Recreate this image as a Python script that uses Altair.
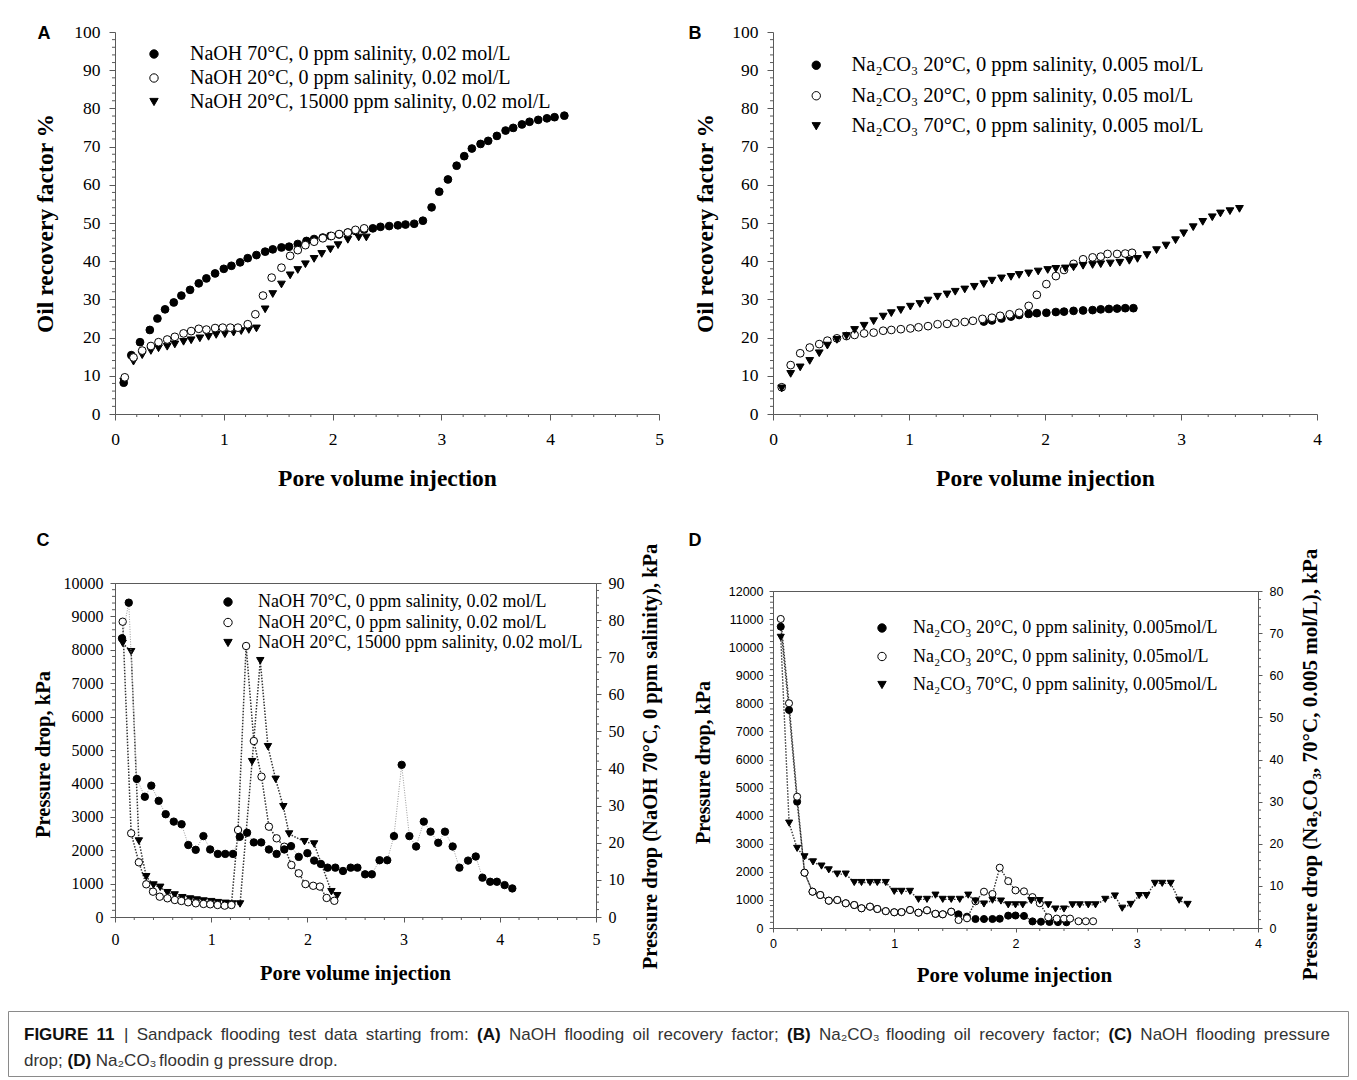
import altair as alt
import pandas as pd

SERIF = "Liberation Serif"
SANS = "Liberation Sans"
AX = "#5a5a5a"

# ---------------- Panel A : NaOH oil recovery factor ----------------
A_NAMES = ["NaOH 70°C, 0 ppm salinity, 0.02 mol/L",
           "NaOH 20°C, 0 ppm salinity, 0.02 mol/L",
           "NaOH 20°C, 15000 ppm salinity, 0.02 mol/L"]
a_x70 = [0.08, 0.15, 0.23, 0.32, 0.39, 0.46, 0.54, 0.61, 0.69, 0.77, 0.84, 0.92, 1.00, 1.07, 1.15, 1.22, 1.30, 1.38,
         1.45, 1.53, 1.60, 1.68, 1.76, 1.83, 1.91, 1.98, 2.06, 2.14, 2.21, 2.29, 2.37, 2.44, 2.52, 2.60, 2.67, 2.75,
         2.83, 2.91, 2.98, 3.06, 3.14, 3.21, 3.28, 3.36, 3.43, 3.51, 3.59, 3.66, 3.74, 3.81, 3.89, 3.97, 4.04, 4.13]
a_y70 = [8.2, 15.4, 18.8, 22.0, 25.0, 27.4, 29.2, 31.0, 32.5, 34.2, 35.5, 36.8, 38.0, 38.8, 39.7, 40.8, 41.6, 42.5,
         43.1, 43.6, 43.8, 44.5, 45.3, 45.8, 46.2, 46.6, 47.0, 47.5, 47.9, 48.3, 48.6, 49.0, 49.2, 49.4, 49.6, 49.8,
         50.6, 54.1, 58.2, 61.4, 65.0, 67.5, 69.5, 70.7, 71.5, 72.8, 74.2, 74.9, 75.8, 76.5, 77.0, 77.4, 77.7, 78.1]
a_x20 = [0.09, 0.17, 0.25, 0.33, 0.40, 0.48, 0.55, 0.63, 0.70, 0.77, 0.84, 0.92, 0.99, 1.06, 1.13, 1.22, 1.29, 1.36,
         1.44, 1.53, 1.61, 1.68, 1.75, 1.83, 1.91, 1.99, 2.06, 2.14, 2.21, 2.29]
a_y20 = [9.6, 14.8, 16.6, 17.8, 18.8, 19.5, 20.2, 21.1, 21.7, 22.3, 22.1, 22.5, 22.6, 22.6, 22.6, 23.5, 26.1, 31.0,
         35.7, 38.3, 41.4, 42.9, 44.2, 45.1, 46.0, 46.6, 47.1, 47.5, 48.2, 48.6]
a_xs = [0.08, 0.17, 0.25, 0.33, 0.40, 0.48, 0.55, 0.63, 0.70, 0.78, 0.86, 0.93, 1.01, 1.09, 1.16, 1.23, 1.30, 1.38,
        1.45, 1.53, 1.61, 1.68, 1.75, 1.83, 1.90, 1.98, 2.05, 2.14, 2.24, 2.31]
a_ys = [8.5, 13.7, 15.4, 16.5, 17.2, 17.6, 18.2, 18.9, 19.3, 19.8, 20.2, 20.7, 20.9, 21.3, 21.7, 22.0, 22.4, 27.4,
        31.4, 33.9, 36.3, 37.7, 39.2, 40.6, 41.9, 43.1, 44.2, 45.6, 46.2, 46.2]

# ---------------- Panel B : Na2CO3 oil recovery factor ----------------
B_NAMES = ["Na₂CO₃ 20°C, 0 ppm salinity, 0.005 mol/L",
           "Na₂CO₃ 20°C, 0 ppm salinity, 0.05 mol/L",
           "Na₂CO₃ 70°C, 0 ppm salinity, 0.005 mol/L"]
b_x005 = [1.55, 1.61, 1.68, 1.75, 1.81, 1.88, 1.94, 2.01, 2.08, 2.14, 2.21, 2.28, 2.35, 2.41, 2.47, 2.53, 2.59, 2.65]
b_y005 = [24.2, 24.5, 25.0, 25.5, 25.9, 26.2, 26.4, 26.5, 26.7, 26.8, 27.0, 27.1, 27.2, 27.4, 27.5, 27.6, 27.7, 27.7]
b_x05 = [0.064, 0.13, 0.20, 0.27, 0.34, 0.40, 0.47, 0.54, 0.60, 0.67, 0.74, 0.81, 0.87, 0.94, 1.01, 1.07, 1.14, 1.21,
         1.28, 1.34, 1.41, 1.47, 1.54, 1.61, 1.67, 1.74, 1.81, 1.88, 1.94, 2.01, 2.08, 2.14, 2.21, 2.28, 2.35, 2.41,
         2.46, 2.53, 2.59, 2.64]
b_y05 = [7.0, 12.8, 15.9, 17.4, 18.3, 19.2, 19.8, 20.4, 20.7, 21.1, 21.3, 21.8, 22.0, 22.2, 22.4, 22.7, 23.0, 23.5,
         23.6, 23.9, 24.1, 24.4, 24.9, 25.2, 25.7, 26.1, 26.5, 28.3, 31.2, 34.0, 36.1, 37.7, 39.3, 40.5, 41.0, 41.2,
         41.9, 41.9, 42.0, 42.2]
b_x70 = [0.064, 0.13, 0.20, 0.27, 0.34, 0.40, 0.47, 0.54, 0.60, 0.67, 0.74, 0.81, 0.87, 0.94, 1.01, 1.08, 1.14, 1.21,
         1.28, 1.34, 1.41, 1.48, 1.55, 1.61, 1.68, 1.75, 1.81, 1.88, 1.95, 2.02, 2.08, 2.15, 2.21, 2.28, 2.35, 2.41,
         2.48, 2.55, 2.62, 2.68, 2.75, 2.82, 2.89, 2.96, 3.02, 3.09, 3.16, 3.23, 3.29, 3.36, 3.43]
b_y70 = [6.7, 10.5, 12.2, 13.9, 15.9, 17.9, 19.4, 20.4, 22.0, 23.1, 24.3, 25.5, 26.4, 27.2, 28.1, 28.8, 29.7, 30.7,
         31.3, 32.0, 32.6, 33.3, 34.0, 34.9, 35.5, 35.9, 36.4, 36.8, 37.3, 37.7, 38.0, 38.1, 38.4, 38.8, 39.0, 39.2,
         39.4, 39.6, 40.1, 40.6, 41.6, 42.9, 44.1, 45.5, 47.3, 48.9, 50.3, 51.5, 52.5, 53.1, 53.7]

# ---------------- Panel C : NaOH pressure drop ----------------
c_x70 = [0.073, 0.143, 0.227, 0.31, 0.377, 0.454, 0.527, 0.611, 0.692, 0.762, 0.839, 0.919, 0.989, 1.069, 1.146,
         1.226, 1.297, 1.373, 1.443, 1.52, 1.60, 1.68, 1.76, 1.83, 1.91, 2.0, 2.07, 2.14, 2.21, 2.29, 2.37, 2.45, 2.52,
         2.60, 2.67, 2.75, 2.83, 2.90, 2.98, 3.06, 3.13, 3.21, 3.28, 3.36, 3.43, 3.51, 3.58, 3.67, 3.75, 3.82, 3.90,
         3.97, 4.05, 4.13]
c_y70 = [75.1, 84.7, 37.2, 32.4, 35.4, 31.3, 27.7, 25.7, 25.0, 19.4, 18.1, 21.8, 18.2, 17.0, 17.0, 17.0, 21.6, 22.7,
         20.1, 20.1, 18.2, 17.0, 18.2, 19.1, 16.2, 17.2, 15.2, 14.3, 13.3, 13.3, 12.4, 13.3, 13.3, 11.5, 11.5, 15.3,
         15.3, 21.8, 41.0, 21.8, 19.0, 25.7, 23.0, 20.0, 23.0, 19.0, 13.3, 15.2, 16.3, 10.6, 9.5, 9.5, 8.6, 7.7]
c_x20 = [0.08, 0.168, 0.248, 0.325, 0.395, 0.465, 0.545, 0.622, 0.69, 0.76, 0.84, 0.92, 0.99, 1.066, 1.14, 1.21,
         1.279, 1.363, 1.443, 1.523, 1.60, 1.68, 1.76, 1.834, 1.91, 1.98, 2.06, 2.13, 2.20, 2.28]
c_y20 = [8841, 2506, 1637, 979, 758, 608, 560, 509, 479, 440, 410, 390, 380, 359, 340, 359, 2605, 8114, 5269, 4201,
         2704, 2356, 2105, 1557, 1308, 985, 935, 910, 570, 485]
c_xs = [0.08, 0.168, 0.248, 0.325, 0.40, 0.47, 0.545, 0.62, 0.70, 0.78, 0.85, 0.92, 1.0, 1.07, 1.15, 1.22, 1.30,
        1.425, 1.51, 1.59, 1.67, 1.75, 1.81, 1.97, 2.07, 2.25, 2.31]
c_ys = [8195, 7943, 2275, 1207, 958, 889, 728, 660, 578, 540, 509, 479, 460, 430, 410, 390, 390, 4650, 7674, 5099,
        4123, 3302, 2485, 2255, 2186, 758, 638]

# ---------------- Panel D : Na2CO3 pressure drop ----------------
D_NAMES = ["Na₂CO₃ 20°C, 0 ppm salinity, 0.005mol/L",
           "Na₂CO₃ 20°C, 0 ppm salinity, 0.05mol/L",
           "Na₂CO₃ 70°C, 0 ppm salinity, 0.005mol/L"]
d_x005 = [0.064, 0.132, 0.199, 0.26, 0.326, 0.39, 0.46, 0.53, 0.60, 0.67, 0.73, 0.80, 0.86, 0.93, 1.0, 1.06, 1.13,
          1.20, 1.27, 1.34, 1.40, 1.47, 1.53, 1.60, 1.67, 1.74, 1.81, 1.87, 1.94, 2.00, 2.07, 2.14, 2.21, 2.28, 2.35,
          2.42]
d_y005 = [10730, 7764, 4498, 1970, 1293, 1175, 973, 997, 880, 819, 702, 760, 677, 600, 560, 565, 641, 545, 630, 505,
          488, 580, 488, 403, 320, 320, 320, 330, 440, 445, 430, 235, 224, 215, 210, 205]
d_x05 = [0.064, 0.132, 0.199, 0.26, 0.326, 0.39, 0.46, 0.53, 0.60, 0.67, 0.73, 0.80, 0.86, 0.93, 1.0, 1.06, 1.13,
         1.20, 1.27, 1.34, 1.40, 1.47, 1.53, 1.60, 1.67, 1.74, 1.81, 1.87, 1.94, 2.00, 2.07, 2.14, 2.20, 2.27, 2.34,
         2.40, 2.45, 2.52, 2.58, 2.64]
d_y05 = [11004, 8002, 4676, 1970, 1293, 1175, 973, 997, 880, 819, 702, 760, 677, 600, 560, 565, 641, 545, 630, 505,
         488, 580, 285, 345, 950, 1293, 1211, 2148, 1670, 1340, 1305, 1100, 880, 381, 335, 335, 335, 240, 240, 240]
d_x70 = [0.064, 0.133, 0.199, 0.26, 0.33, 0.40, 0.46, 0.53, 0.60, 0.67, 0.73, 0.80, 0.86, 0.93, 1.0, 1.06, 1.13,
         1.20, 1.27, 1.34, 1.40, 1.47, 1.54, 1.61, 1.67, 1.74, 1.81, 1.88, 1.94, 2.00, 2.06, 2.13, 2.20, 2.27, 2.33,
         2.40, 2.47, 2.53, 2.60, 2.66, 2.74, 2.82, 2.88, 2.95, 3.02, 3.08, 3.15, 3.21, 3.28, 3.35, 3.42]
d_y70 = [69.0, 24.9, 18.9, 16.9, 15.7, 14.7, 13.8, 12.8, 12.8, 10.8, 10.8, 10.8, 10.8, 10.8, 8.7, 8.7, 8.7, 6.8, 6.8,
         7.8, 6.8, 6.8, 6.8, 7.8, 6.4, 5.7, 6.6, 6.4, 5.5, 5.5, 5.5, 6.5, 6.5, 5.5, 4.5, 4.5, 5.5, 5.5, 5.5, 5.5, 6.8,
         7.6, 4.7, 5.6, 7.7, 7.7, 10.6, 10.6, 10.6, 6.6, 5.6]

SHAPES = ["circle", "circle", "triangle-down"]
FILLS = ["black", "white", "black"]
STROKES = ["black", "black", "black"]
ONE = pd.DataFrame({"k": [0]})


def frame(xs, ys, name):
    return pd.DataFrame({"x": xs, "y": ys, "s": name})


def axis_x(vals, title, tx, ty, tfs, lfont, lfs, lpad, tsize):
    return alt.Axis(values=vals, format="d", title=title, titleFont=SERIF, titleFontSize=tfs,
                    titleFontWeight="bold", titleColor="black", titleX=tx, titleY=ty,
                    titleAlign="center", titleBaseline="middle", titleAngle=0,
                    labelFont=lfont, labelFontSize=lfs, labelColor="black", labelPadding=lpad,
                    labelFlush=False, labelOverlap=False, tickSize=tsize, tickColor=AX, tickWidth=1,
                    domainColor=AX, domainWidth=1, grid=False)


def axis_y(vals, title, tx, ty, tfs, lfont, lfs, lpad, tsize, orient="left"):
    return alt.Axis(orient=orient, values=vals, format="d", title=title, titleFont=SERIF, titleFontSize=tfs,
                    titleFontWeight="bold", titleColor="black", titleX=tx, titleY=ty,
                    titleAlign="center", titleBaseline="middle", titleAngle=270,
                    labelFont=lfont, labelFontSize=lfs, labelColor="black", labelPadding=lpad,
                    labelFlush=False, labelOverlap=False, tickSize=tsize, tickColor=AX, tickWidth=1,
                    domainColor=AX, domainWidth=1, grid=False)


def legend(names, lx, ly, fs, rowpad, loff):
    return alt.Legend(title=None, orient="none", legendX=lx, legendY=ly, labelFont=SERIF, labelFontSize=fs,
                      labelColor="black", labelLimit=0, labelOffset=loff, rowPadding=rowpad, padding=0,
                      symbolSize=70, symbolStrokeColor="black", symbolStrokeWidth=1, symbolOpacity=1,
                      values=names)


def points(df, xenc, yenc, names, leg, size):
    return alt.Chart(df).mark_point(size=size, opacity=1, strokeWidth=1, color="black").encode(
        x=xenc, y=yenc,
        shape=alt.Shape("s:N", scale=alt.Scale(domain=names, range=SHAPES), legend=leg),
        fill=alt.Fill("s:N", scale=alt.Scale(domain=names, range=FILLS), legend=leg),
        stroke=alt.Stroke("s:N", scale=alt.Scale(domain=names, range=STROKES), legend=leg),
    )


def dotted(df, xenc, yenc, color, width, dash):
    return alt.Chart(df).mark_line(color=color, strokeWidth=width, strokeDash=dash).encode(
        x=xenc, y=yenc, detail="s:N")


def xminor(vals, scale, axis, H, length=3):
    return alt.Chart(pd.DataFrame({"v": vals})).mark_rule(color=AX, strokeWidth=1).encode(
        x=alt.X("v:Q", scale=scale, axis=axis), y=alt.value(H), y2=alt.value(H + length))


def yminor(vals, scale, axis, x0, dx):
    return alt.Chart(pd.DataFrame({"v": vals})).mark_rule(color=AX, strokeWidth=1).encode(
        y=alt.Y("v:Q", scale=scale, axis=axis), x=alt.value(x0), x2=alt.value(x0 + dx))


def letter(txt, x, y):
    return alt.Chart(ONE).mark_text(text=txt, font=SANS, fontSize=18, fontWeight="bold", color="black",
                                    align="center", baseline="middle").encode(x=alt.value(x), y=alt.value(y))


def marker(x, y):
    # invisible (white) anchor that fixes the layout bounds of a panel
    return alt.Chart(ONE).mark_rule(color="white", strokeWidth=1).encode(
        x=alt.value(x), x2=alt.value(x + 1.5), y=alt.value(y), y2=alt.value(y + 1.5))


# ---------------- panel A ----------------
WA, HA = 544, 382
xsA = alt.Scale(domain=[0, 5], nice=False, zero=False)
ysA = alt.Scale(domain=[0, 100], nice=False, zero=False)
axA_x = axis_x(list(range(0, 6)), "Pore volume injection", 272, 64, 23.5, SERIF, 17.5, 10, 6)
axA_y = axis_y(list(range(0, 101, 10)), "Oil recovery factor %", -70, 191, 23.5, SERIF, 17.5, 9, 6)
dfA = pd.concat([frame(a_x70, a_y70, A_NAMES[0]), frame(a_xs, a_ys, A_NAMES[2]), frame(a_x20, a_y20, A_NAMES[1])])
xA = alt.X("x:Q", scale=xsA, axis=axA_x)
yA = alt.Y("y:Q", scale=ysA, axis=axA_y)
panelA = alt.layer(
    points(dfA, xA, yA, A_NAMES, legend(A_NAMES, 29, 12, 20, 4, 26), 60),
    xminor([i / 5 for i in range(26) if i % 5], xsA, axA_x, HA),
    yminor([v for v in range(0, 101, 2) if v % 10], ysA, axA_y, 0, -3),
    letter("A", -71, 2),
    marker(-106.5, -23.5),
    marker(563, 100),
).properties(width=WA, height=HA)

# ---------------- panel B ----------------
WB, HB = 544, 382
xsB = alt.Scale(domain=[0, 4], nice=False, zero=False)
ysB = alt.Scale(domain=[0, 100], nice=False, zero=False)
axB_x = axis_x(list(range(0, 5)), "Pore volume injection", 272, 64, 23.5, SERIF, 17.5, 10, 6)
axB_y = axis_y(list(range(0, 101, 10)), "Oil recovery factor %", -68, 191, 23.5, SERIF, 17.5, 9, 6)
dfB = pd.concat([frame(b_x005, b_y005, B_NAMES[0]), frame(b_x05, b_y05, B_NAMES[1]), frame(b_x70, b_y70, B_NAMES[2])])
xB = alt.X("x:Q", scale=xsB, axis=axB_x)
yB = alt.Y("y:Q", scale=ysB, axis=axB_y)
panelB = alt.layer(
    points(dfB, xB, yB, B_NAMES, legend(B_NAMES, 33, 23, 20.5, 9.5, 25), 60),
    xminor([i / 5 for i in range(21) if i % 5], xsB, axB_x, HB),
    yminor([v for v in range(0, 101, 2) if v % 10], ysB, axB_y, 0, -3),
    letter("B", -78, 2),
    marker(-92.5, -23.5),
).properties(width=WB, height=HB)

# ---------------- panel C ----------------
WC, HC = 481, 334
xsC = alt.Scale(domain=[0, 5], nice=False, zero=False)
ysCL = alt.Scale(domain=[0, 10000], nice=False, zero=False)
ysCR = alt.Scale(domain=[0, 90], nice=False, zero=False)
axC_x = axis_x(list(range(0, 6)), "Pore volume injection", 240, 56, 20.5, SERIF, 16, 9, 5)
axC_yl = axis_y(list(range(0, 10001, 1000)), "Pressure drop, kPa", -72, 171, 20.5, SERIF, 16, 7, 5)
axC_yr = axis_y(list(range(0, 91, 10)), "Pressure drop (NaOH 70°C, 0 ppm salinity), kPa",
                54, 173, 20.5, SERIF, 16, 7, 5, orient="right")
dfCL = pd.concat([frame(c_xs, c_ys, A_NAMES[2]), frame(c_x20, c_y20, A_NAMES[1])])
dfCR = frame(c_x70, c_y70, A_NAMES[0])
xC = alt.X("x:Q", scale=xsC, axis=axC_x)
yCL = alt.Y("y:Q", scale=ysCL, axis=axC_yl)
yCR = alt.Y("y:Q", scale=ysCR, axis=axC_yr)
legC = legend(A_NAMES, 104, 10, 18, 2.5, 21)
leftC = alt.layer(
    dotted(dfCL, xC, yCL, "#333333", 1.5, [1.5, 1.5]),
    points(dfCL, xC, yCL, A_NAMES, legC, 55),
    xminor([i / 5 for i in range(26) if i % 5], xsC, axC_x, HC),
    yminor([v for v in range(0, 10001, 200) if v % 1000], ysCL, axC_yl, 0, -3),
    letter("C", -72, -42),
)
rightC = alt.layer(
    dotted(dfCR, xC, yCR, "#9a9a9a", 1, [1, 1.5]),
    points(dfCR, xC, yCR, A_NAMES, legC, 55),
    yminor([v for v in range(0, 91, 2) if v % 10], ysCR, axC_yr, WC, 3),
)
panelC = alt.layer(leftC, rightC).resolve_scale(y="independent").properties(
    width=WC, height=HC, view=alt.ViewBackground(stroke=AX, strokeWidth=1))

# ---------------- panel D ----------------
WD, HD = 485, 337
xsD = alt.Scale(domain=[0, 4], nice=False, zero=False)
ysDL = alt.Scale(domain=[0, 12000], nice=False, zero=False)
ysDR = alt.Scale(domain=[0, 80], nice=False, zero=False)
axD_x = axis_x(list(range(0, 5)), "Pore volume injection", 241, 47, 21, SANS, 12.5, 5, 4)
axD_yl = axis_y(list(range(0, 12001, 1000)), "Pressure drop, kPa", -70, 171, 20, SANS, 12.5, 6, 4)
axD_yr = axis_y(list(range(0, 81, 10)), "Pressure drop (Na₂CO₃, 70°C, 0.005 mol/L), kPa",
                52, 173, 21, SANS, 12.5, 7, 4, orient="right")
dfDL = pd.concat([frame(d_x005, d_y005, D_NAMES[0]), frame(d_x05, d_y05, D_NAMES[1])])
dfDR = frame(d_x70, d_y70, D_NAMES[2])
xD = alt.X("x:Q", scale=xsD, axis=axD_x)
yDL = alt.Y("y:Q", scale=ysDL, axis=axD_yl)
yDR = alt.Y("y:Q", scale=ysDR, axis=axD_yr)
legD = legend(D_NAMES, 100, 28, 18, 10.5, 22)
leftD = alt.layer(
    dotted(dfDL, xD, yDL, "#333333", 1.4, [1.5, 1.5]),
    points(dfDL, xD, yDL, D_NAMES, legD, 50),
    xminor([i / 5 for i in range(21) if i % 5], xsD, axD_x, HD),
    yminor([v for v in range(0, 12001, 200) if v % 1000], ysDL, axD_yl, 0, -3),
    letter("D", -78, -50),
    marker(0, 408),
)
rightD = alt.layer(
    dotted(dfDR, xD, yDR, "#333333", 1.4, [1.5, 1.5]),
    points(dfDR, xD, yDR, D_NAMES, legD, 50),
    yminor([v for v in range(0, 81, 2) if v % 10], ysDR, axD_yr, WD, 3),
)
panelD = alt.layer(leftD, rightD).resolve_scale(y="independent").properties(
    width=WD, height=HD, view=alt.ViewBackground(stroke=AX, strokeWidth=1))

# ---------------- caption ----------------
REG = dict(zip("abcdefghijklmnopqrstuvwxyz",
               [556, 556, 500, 556, 556, 278, 556, 556, 222, 222, 500, 222, 833, 556, 556, 556, 556, 333, 500, 278,
                556, 500, 722, 500, 500, 500]))
REG.update({"A": 667, "B": 667, "C": 722, "D": 722, "E": 667, "F": 611, "G": 778, "H": 722, "I": 278, "N": 722,
            "O": 778, "R": 722, "S": 667, "U": 722, " ": 278, "|": 260, ":": 278, ";": 278, "(": 333, ")": 333,
            ".": 278, ",": 278, "1": 556, "2": 556, "3": 556, "₂": 333, "₃": 333})
BOLD = {"A": 722, "B": 722, "C": 722, "D": 722, "E": 667, "F": 611, "G": 778, "I": 278, "R": 722, "U": 722,
        " ": 278, "1": 556, "(": 333, ")": 333}

CAP_LINE1 = [("FIGURE 11", True), (" | Sandpack flooding test data starting from: ", False), ("(A)", True),
             (" NaOH flooding oil recovery factor; ", False), ("(B)", True),
             (" Na₂CO₃ flooding oil recovery factor; ", False), ("(C)", True), (" NaOH flooding pressure", False)]
CAP_LINE2 = [("drop; ", False), ("(D)", True), (" Na₂CO₃ floodin g pressure drop.", False)]
CAP_SIZE = 17.0
CAP_LEFT = -91
CAP_LINE_WIDTH = 1306


def word_list(line):
    words = []
    for txt, bold in line:
        for w in txt.split(" "):
            if w:
                words.append((w, bold))
    return words


def wwidth(word):
    w, bold = word
    tab = BOLD if bold else REG
    return sum(tab.get(c, REG.get(c, 556)) for c in w) * CAP_SIZE / 1000


cap_layers = [alt.Chart(ONE).mark_rect(fillOpacity=0, stroke="#8a8a8a", strokeWidth=1).encode(
    x=alt.value(-106.5), x2=alt.value(1233.5), y=alt.value(0.5), y2=alt.value(65.5))]
space = REG[" "] * CAP_SIZE / 1000
for line, yy, justify in ((CAP_LINE1, 24, True), (CAP_LINE2, 50, False)):
    words = word_list(line)
    natural = sum(wwidth(w) for w in words)
    gap = (CAP_LINE_WIDTH - natural) / (len(words) - 1) if justify else space
    pos = CAP_LEFT
    for wd in words:
        cap_layers.append(alt.Chart(ONE).mark_text(
            text=wd[0], font=SANS, fontSize=CAP_SIZE, fontWeight="bold" if wd[1] else "normal",
            color="#111111" if wd[1] else "#333333", align="left", baseline="middle").encode(
            x=alt.value(pos), y=alt.value(yy)))
        pos += wwidth(wd) + gap
caption = alt.layer(*cap_layers).properties(width=1234, height=65)

# ---------------- assemble ----------------
RES = dict(fill="independent", shape="independent", stroke="independent")
col1 = alt.vconcat(panelA, panelC, spacing=169, bounds="flush").resolve_scale(**RES)
col2 = alt.vconcat(panelB, panelD, spacing=177, bounds="flush").resolve_scale(**RES)
row = alt.hconcat(col1, col2, spacing=0).resolve_scale(**RES)
chart = alt.vconcat(row, caption, spacing=9).resolve_scale(**RES).properties(
    padding=0, background="white").configure_view(stroke=None)

chart.save("out.html", embed_options={"renderer": "svg", "actions": False})
